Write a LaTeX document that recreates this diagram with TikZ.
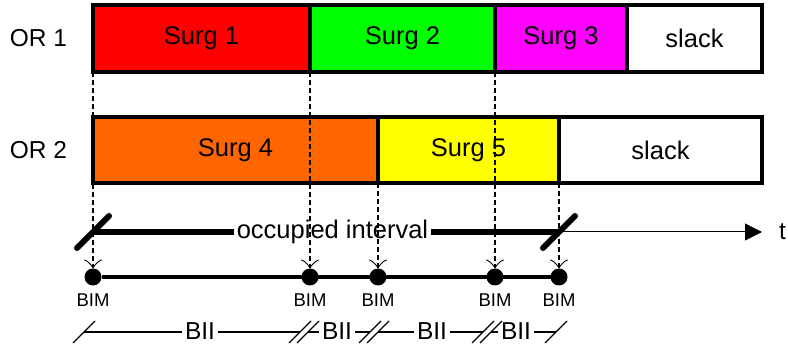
\documentclass[tikz,border=0pt]{standalone}
\usepackage{fontspec}
\setmainfont{Liberation Sans}
\usetikzlibrary{arrows.meta}
\definecolor{surgred}{RGB}{255,0,0}
\definecolor{surggreen}{RGB}{0,255,0}
\definecolor{surgmagenta}{RGB}{255,0,255}
\definecolor{surgorange}{RGB}{255,102,0}
\definecolor{surgyellow}{RGB}{255,255,0}
\begin{document}
\begin{tikzpicture}[x=1pt,y=-1pt,
  big/.style={font=\fontsize{25.5}{30}\selectfont},
  mid/.style={font=\fontsize{24.5}{29}\selectfont},
  slot/.style={big, draw=black, line width=3.2pt, rectangle, inner sep=0pt, outer sep=0pt},
  guide/.style={line width=1.2pt, dash pattern=on 5pt off 3pt,
    -{Classical TikZ Rightarrow[length=9pt,width=18pt,line width=0.9pt]}},
  dot/.style={circle, fill=black, minimum size=17pt, inner sep=0pt, outer sep=0pt},
  bim/.style={font=\fontsize{18.5}{22}\selectfont, inner sep=0pt},
  occline/.style={line width=6pt},
  bigslash/.style={line width=6pt, line cap=round},
  timeline/.style={line width=1pt, -{Triangle[length=17pt,width=17pt]}},
  dimline/.style={line width=1.3pt},
  tick/.style={line width=1.3pt},
  dimtext/.style={mid, inner sep=3pt},
]
\useasboundingbox (0,0) rectangle (788,347);

% operating room labels
\node[mid] (or1) at (38.5,38.5) {OR 1};
\node[mid] (or2) at (38.5,150) {OR 2};

% OR 1 schedule
\node[slot, fill=surgred,     minimum width=217pt, minimum height=67pt] (s1) at (201.5,38.5) {Surg 1};
\node[slot, fill=surggreen,   minimum width=185pt, minimum height=67pt] (s2) at (402.5,38.5) {Surg 2};
\node[slot, fill=surgmagenta, minimum width=132pt, minimum height=67pt] (s3) at (561,38.5) {Surg 3};
\node[slot, fill=white,       minimum width=135pt, minimum height=67pt] (k1) at (694.5,38.5) {slack};

% OR 2 schedule
\node[slot, fill=surgorange, minimum width=285pt, minimum height=66pt] (s4) at (235.5,150) {Surg 4};
\node[slot, fill=surgyellow, minimum width=181pt, minimum height=66pt] (s5) at (468.5,150) {Surg 5};
\node[slot, fill=white,      minimum width=203pt, minimum height=66pt] (k2) at (660.5,150) {slack};

% BIM points
\node[dot] (b1) at (93,277) {};
\node[dot] (b2) at (310,277) {};
\node[dot] (b3) at (378,277) {};
\node[dot] (b4) at (495,277) {};
\node[dot] (b5) at (559,277) {};
\draw[line width=4.5pt] (b1) -- (b5);
\foreach \i/\x in {1/93,2/310,3/378,4/495,5/559}
  \node[bim] (m\i) at (\x,300) {BIM};

% surgery end times projected onto the BIM axis
\draw[guide] (s1.south west) -- (b1.north);
\draw[guide] (s1.south east) -- (b2.north);
\draw[guide] (s2.south east) -- (b4.north);
\draw[guide] (s4.south east) -- (b3.north);
\draw[guide] (s5.south east) -- (b5.north);

% occupied interval and time axis
\coordinate (o1) at (93,232);
\coordinate (o2) at (559,232);
\coordinate (tend) at (762,232);
\node[big, inner sep=3pt] (occ) at (332.5,232) {occupied interval};
\draw[occline] (o1) -- (occ.west) (occ.east) -- (o2);
\draw[timeline] (o2) -- (tend);
\draw[bigslash] ([shift={(-16,16)}]o1) -- ([shift={(16,-16)}]o1);
\draw[bigslash] ([shift={(-16,16)}]o2) -- ([shift={(16,-16)}]o2);
\node[mid, anchor=west, inner sep=0pt] (t) at (779,232) {t};

% BII intervals
\coordinate (d1s) at (84,332);  \coordinate (d1e) at (300,332);
\coordinate (d2s) at (308,332); \coordinate (d2e) at (370,332);
\coordinate (d3s) at (378,332); \coordinate (d3e) at (483,332);
\coordinate (d4s) at (491,332); \coordinate (d4e) at (556,332);
\node[dimtext] (i1) at (200,331) {BII};
\node[dimtext] (i2) at (337,331) {BII};
\node[dimtext] (i3) at (432,331) {BII};
\node[dimtext] (i4) at (516,331) {BII};
\draw[dimline] (d1s) -- (i1.west |- d1s) (i1.east |- d1s) -- (d1e);
\draw[dimline] (d2s) -- (i2.west |- d2s) (i2.east |- d2s) -- (d2e);
\draw[dimline] (d3s) -- (i3.west |- d3s) (i3.east |- d3s) -- (d3e);
\draw[dimline] (d4s) -- (i4.west |- d4s) (i4.east |- d4s) -- (d4e);
\foreach \p in {d1s,d1e,d2s,d2e,d3s,d3e,d4s,d4e}
  \draw[tick] ([shift={(-11,11)}]\p) -- ([shift={(11,-11)}]\p);
\end{tikzpicture}
\end{document}
